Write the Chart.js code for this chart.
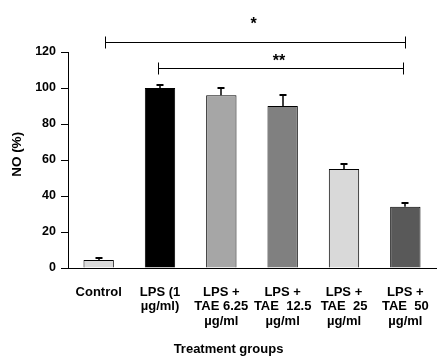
<!DOCTYPE html>
<html>
<head>
<meta charset="utf-8">
<script src="https://cdn.jsdelivr.net/npm/chart.js@4"></script>
<style>
html,body{margin:0;padding:0;background:#fff;}
#wrap{width:441px;height:362px;position:relative;}
</style>
</head>
<body>
<div id="wrap"><canvas id="c"></canvas></div>
<script>
const categories = [
  ['Control'],
  ['LPS (1', 'µg/ml)'],
  ['LPS +', 'TAE 6.25', 'µg/ml'],
  ['LPS +', 'TAE  12.5', 'µg/ml'],
  ['LPS +', 'TAE  25', 'µg/ml'],
  ['LPS +', 'TAE  50', 'µg/ml']
];
const values = [4.4, 100, 96, 90, 55, 34];
const errors = [1.0, 1.5, 4.2, 6.2, 3.0, 2.0];
const barColors = ['#d9d9d9', '#000000', '#a6a6a6', '#808080', '#d9d9d9', '#595959'];
const yTicks = [0, 20, 40, 60, 80, 100, 120];
// significance brackets: [from category index, to category index, label]
const bracketFrom = [0.1, 0.96];
const bracketTo = [5.0, 4.96];
const bracketLabels = ['*', '**'];
const bracketLevel = [125.4, 111];      // value-axis level of bracket line
const bracketLabelLevel = [135.2, 114.6];

const FONT = '"Liberation Sans", Arial, sans-serif';

const errorBars = {
  id: 'errorBars',
  afterDatasetsDraw(chart) {
    const {ctx} = chart;
    const y = chart.scales.y;
    const meta = chart.getDatasetMeta(0);
    ctx.save();
    ctx.strokeStyle = '#000';
    meta.data.forEach((bar, i) => {
      const cx = Math.round(bar.x);
      const top = y.getPixelForValue(values[i]);
      const e = Math.round(y.getPixelForValue(values[i] + errors[i]));
      ctx.lineWidth = 1.5;
      ctx.beginPath(); ctx.moveTo(cx, top); ctx.lineTo(cx, e); ctx.stroke();
      ctx.lineWidth = 2;
      ctx.beginPath(); ctx.moveTo(cx - 3.5, e); ctx.lineTo(cx + 3.5, e); ctx.stroke();
    });
    ctx.restore();
  }
};

const brackets = {
  id: 'brackets',
  afterDraw(chart) {
    const {ctx} = chart;
    const x = chart.scales.x, y = chart.scales.y;
    ctx.save();
    ctx.strokeStyle = '#000';
    ctx.fillStyle = '#000';
    ctx.lineWidth = 1;
    for (let i = 0; i < bracketLabels.length; i++) {
      const x1 = Math.round(x.getPixelForValue(bracketFrom[i])) + 0.5;
      const x2 = Math.round(x.getPixelForValue(bracketTo[i])) + 0.5;
      const yy = Math.round(y.getPixelForValue(bracketLevel[i])) + 0.5;
      ctx.beginPath();
      ctx.moveTo(x1, yy); ctx.lineTo(x2, yy);
      ctx.moveTo(x1, yy - 6); ctx.lineTo(x1, yy + 6);
      ctx.moveTo(x2, yy - 6); ctx.lineTo(x2, yy + 6);
      ctx.stroke();
      ctx.font = 'bold 16px ' + FONT;
      ctx.textAlign = 'center';
      ctx.textBaseline = 'middle';
      ctx.fillText(bracketLabels[i], (x1 + x2) / 2 - 2, y.getPixelForValue(bracketLabelLevel[i]));
    }
    ctx.restore();
  }
};

new Chart(document.getElementById('c'), {
  type: 'bar',
  data: {
    labels: categories,
    datasets: [{
      data: values,
      backgroundColor: barColors,
      borderColor: '#000',
      borderWidth: 1,
      categoryPercentage: 1.0,
      barPercentage: 0.495
    }]
  },
  options: {
    responsive: true,
    maintainAspectRatio: false,
    animation: false,
    devicePixelRatio: 1,
    layout: {padding: {top: 52, right: 5, bottom: 0, left: 0}},
    plugins: {legend: {display: false}, tooltip: {enabled: false}},
    scales: {
      x: {
        grid: {display: false},
        border: {display: true, color: '#000', width: 1},
        ticks: {
          color: '#000',
          font: {family: FONT, size: 13, weight: 'bold', lineHeight: 1.12},
          padding: 9,
          autoSkip: false,
          maxRotation: 0,
          minRotation: 0
        },
        title: {
          display: true,
          text: 'Treatment groups' + ' '.repeat(13),
          color: '#000',
          font: {family: FONT, size: 13, weight: 'bold', lineHeight: 1.2},
          padding: {top: 0, bottom: 5}
        },
        afterFit(scale) { scale.height = 94; }
      },
      y: {
        min: 0,
        max: 120,
        afterBuildTicks(scale) { scale.ticks = yTicks.map(v => ({value: v})); },
        grid: {display: true, drawOnChartArea: false, drawTicks: true, tickLength: 7, color: '#000', lineWidth: 1},
        border: {display: true, color: '#000', width: 1},
        ticks: {
          color: '#000',
          font: {family: FONT, size: 12.5, weight: 'bold'},
          padding: 5
        },
        title: {
          display: true,
          text: '   NO (%)',
          color: '#000',
          font: {family: FONT, size: 13.5, weight: 'bold', lineHeight: 1.2},
          padding: {top: 9, bottom: 0}
        },
        afterFit(scale) { scale.width = 68; }
      }
    }
  },
  plugins: [errorBars, brackets]
});
</script>
</body>
</html>
